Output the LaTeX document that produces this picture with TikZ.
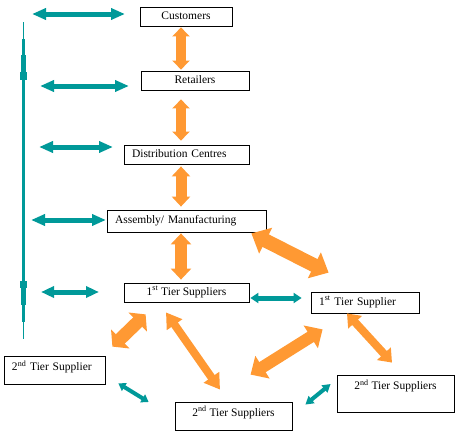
\documentclass[tikz,border=0pt]{standalone}
\usepackage{fontspec}
\setmainfont{Liberation Serif}
\usetikzlibrary{arrows.meta,positioning,calc}
\definecolor{flowc}{HTML}{FF9933}
\definecolor{infoc}{HTML}{009999}

\begin{document}
\begin{tikzpicture}[
    x=1pt, y=-1pt,
    stage/.style={
        rectangle, draw=black, fill=white, line width=0.8pt,
        minimum height=19pt, inner sep=0pt,
        align=center, font=\fontsize{11.5}{13}\selectfont,
        text height=8pt, text depth=2.5pt
    },
    stagel/.style={stage, align=left, inner xsep=8pt, text width=#1},
    flow/.style args={#1/#2/#3}{
        draw=flowc, line width=#1,
        arrows={Triangle[width=#2,length=#3]-Triangle[width=#2,length=#3]}
    },
    info/.style args={#1/#2/#3}{
        draw=infoc, line width=#1,
        arrows={Triangle[width=#2,length=#3]-Triangle[width=#2,length=#3]}
    }
]

\useasboundingbox (0,0) rectangle (459,434);

% chain
\node[stage, minimum width=92pt] (cust) at (186,16.5) {Customers};
\node[stage, minimum width=108pt] (ret) at (195,80.5) {Retailers};
\node[stagel=109pt] (dc) at (186.5,154.5) {Distribution Centres};
\node[stagel=143pt, minimum height=22pt] (asm) at (186.5,221) {Assembly/ Manufacturing};
\node[stage, minimum width=125pt] (tier1) at (186.5,292.5) {1\textsuperscript{st} Tier Suppliers};

% suppliers
\node[stagel=92pt, minimum height=21pt] (tier1b) at (365,302.5) {1\textsuperscript{st} Tier Supplier};
\node[stagel=85pt, minimum height=28pt, text depth=6.4pt] (tier2a) at (54.5,370) {2\textsuperscript{nd} Tier Supplier};
\node[stage, minimum width=117pt, minimum height=28pt, text depth=7.4pt] (tier2b) at (233.5,416) {2\textsuperscript{nd} Tier Suppliers};
\node[stage, minimum width=117pt, minimum height=37pt, text depth=15.4pt] (tier2c) at (395.5,393.5) {2\textsuperscript{nd} Tier Suppliers};

% material flow
\coordinate (axis) at (181,0);
\draw[flow=10pt/17pt/9pt, shorten <=1pt, shorten >=1pt] (cust.south -| axis) -- (ret.north -| axis);
\draw[flow=10pt/17pt/9pt, shorten <=9pt, shorten >=4pt] (ret.south -| axis) -- (dc.north -| axis);
\draw[flow=11pt/18pt/10pt, shorten <=2pt, shorten >=3pt] (dc.south -| axis) -- (asm.north -| axis);
\draw[flow=12pt/20pt/11pt, shorten <=1pt, shorten >=3pt] (asm.south -| axis) -- (tier1.north -| axis);

\draw[flow=14pt/28pt/16pt] ([shift={(-15,1)}]asm.south east) -- ([shift={(18,-19)}]tier1b.north west);
\draw[flow=13pt/26pt/11pt] ([shift={(22,12)}]tier1.south west) -- ([shift={(7,-9)}]tier2a.north east);
\draw[flow=8pt/18pt/15pt] ([shift={(-20.5,10)}]tier1.south) -- ([shift={(-13.5,-12)}]tier2b.north);
\draw[flow=12pt/26pt/14pt] ([shift={(12,16)}]tier1b.south west) -- ([shift={(76,-27)}]tier2b.north west);
\draw[flow=8pt/18pt/12pt] ([shift={(-18,0)}]tier1b.south) -- ([shift={(-3.5,-12)}]tier2c.north);

% information flow
\coordinate (bartop) at (23,22);
\coordinate (barbot) at (23,339);
\draw[infoc, line width=1pt] (bartop) -- (barbot);
\draw[infoc, line width=3pt] ([shift={(0,17)}]bartop) -- ([shift={(0,-17)}]barbot);
\fill[infoc] (20.5,55) rectangle (25.5,72);
\fill[infoc] (19.5,72) rectangle (26.5,80);
\fill[infoc] (19.5,281) rectangle (26.5,288);
\fill[infoc] (20.5,288) rectangle (25.5,305);

\coordinate (i1a) at (32,14);
\coordinate (i1b) at (125,14);
\coordinate (i2a) at (40,86);
\coordinate (i2b) at (129,86);
\coordinate (i3a) at (39,147);
\coordinate (i3b) at (113,147);
\coordinate (i4a) at (31,220);
\coordinate (i4b) at (106,220);
\coordinate (i5a) at (41,292);
\coordinate (i5b) at (99,292);
\draw[info=5pt/11pt/14pt] (i1a) -- (i1b);
\draw[info=5pt/11pt/14pt] (i2a) -- (i2b);
\draw[info=5pt/11pt/14pt] (i3a) -- (i3b);
\draw[info=5pt/11pt/14pt] (i4a) -- (i4b);
\draw[info=5pt/11pt/13pt] (i5a) -- (i5b);

\draw[info=5pt/10pt/8pt] ([shift={(1,5.5)}]tier1.east) -- ([shift={(-9,-4.5)}]tier1b.west);
\draw[info=4pt/9pt/7pt] ([shift={(13,-1)}]tier2a.south east) -- ([shift={(-26,-14)}]tier2b.west);
\draw[info=4pt/9pt/8pt] ([shift={(13,3)}]tier2b.north east) -- ([shift={(-6,-9.5)}]tier2c.west);

\end{tikzpicture}
\end{document}
